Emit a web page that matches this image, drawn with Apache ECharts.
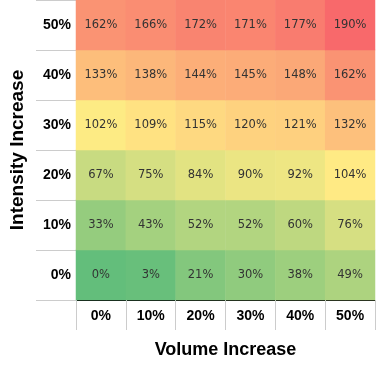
<!DOCTYPE html>
<html>
<head>
<meta charset="utf-8">
<script src="https://cdn.jsdelivr.net/npm/echarts@6/dist/echarts.min.js"></script>
<style>html,body{margin:0;padding:0;background:#fff}#c{width:377px;height:367px}</style>
</head>
<body>
<div id="c"></div>
<script>
var volumeCats = ['0%','10%','20%','30%','40%','50%'];
var intensityCats = ['0%','10%','20%','30%','40%','50%'];
var row0 = [0, 3, 21, 30, 38, 49];
var row10 = [33, 43, 52, 52, 60, 76];
var row20 = [67, 75, 84, 90, 92, 104];
var row30 = [102, 109, 115, 120, 121, 132];
var row40 = [133, 138, 144, 145, 148, 162];
var row50 = [162, 166, 172, 171, 177, 190];
var rows = [row0, row10, row20, row30, row40, row50];

var data = [];
var all = [];
rows.forEach(function (r, yi) {
  r.forEach(function (v, xi) { data.push([xi, yi, v]); all.push(v); });
});
all.sort(function(a,b){return a-b;});
var vmin = all[0], vmax = all[all.length-1];
var n = all.length;
var vmid = n % 2 ? all[(n-1)/2] : (all[n/2-1] + all[n/2]) / 2;
var G = [99,190,123], Y = [255,235,132], R = [248,105,107];
function mix(a,b,t){return 'rgb('+a.map(function(x,i){return Math.round(x+(b[i]-x)*t);}).join(',')+')';}
var stops = [];
for (var v = vmin; v <= vmax; v++) {
  stops.push(v <= vmid ? mix(G, Y, (v - vmin) / (vmid - vmin)) : mix(Y, R, (v - vmid) / (vmax - vmid)));
}

var chart = echarts.init(document.getElementById('c'));
chart.setOption({
  animation: false,
  grid: {left: 76, right: 2, top: 0, bottom: 67},
  xAxis: {
    type: 'category', data: volumeCats,
    name: 'Volume Increase', nameLocation: 'middle', nameGap: 41,
    nameTextStyle: {fontFamily: 'Liberation Sans, Arial', fontWeight: 'bold', fontSize: 18, color: '#000'},
    axisLine: {show: true, lineStyle: {color: '#000', width: 1}},
    axisTick: {show: true, length: 30, lineStyle: {color: '#ccc'}},
    axisLabel: {margin: 9, fontFamily: 'Liberation Sans, Arial', fontWeight: 'bold', fontSize: 14, color: '#000'},
    splitLine: {show: false}
  },
  yAxis: {
    type: 'category', data: intensityCats,
    name: 'Intensity Increase', nameLocation: 'middle', nameGap: 49, nameRotate: 90,
    nameTextStyle: {fontFamily: 'Liberation Sans, Arial', fontWeight: 'bold', fontSize: 19, color: '#000'},
    axisLine: {show: true, lineStyle: {color: '#000', width: 1}},
    axisTick: {show: true, length: 40, lineStyle: {color: '#ccc'}},
    axisLabel: {margin: 5, fontFamily: 'Liberation Sans, Arial', fontWeight: 'bold', fontSize: 14, color: '#000'},
    splitLine: {show: false}
  },
  visualMap: {show: false, type: 'continuous', min: vmin, max: vmax, dimension: 2, inRange: {color: stops}},
  series: [{
    type: 'heatmap', data: data,
    label: {show: true, formatter: function(p){return p.value[2] + '%';}, fontFamily: 'DejaVu Sans', fontSize: 11.5, color: '#333'},
    itemStyle: {borderWidth: 0},
    emphasis: {disabled: true}
  }]
});
</script>
</body>
</html>
